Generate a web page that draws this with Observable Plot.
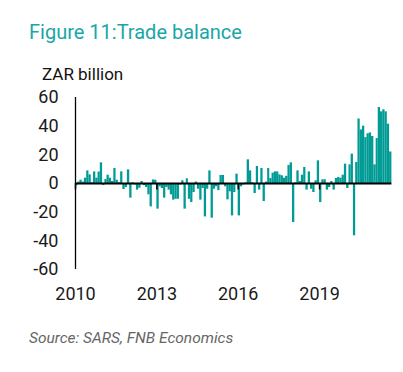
<!DOCTYPE html>
<html><head><meta charset="utf-8">
<script src="https://cdn.jsdelivr.net/npm/d3@7"></script>
<script src="https://cdn.jsdelivr.net/npm/@observablehq/plot@0.6"></script>
<style>
body{margin:0;width:403px;height:372px;background:#fff;position:relative;overflow:hidden;font-family:Roboto,sans-serif}
#title{position:absolute;left:29px;top:22px;font-size:20px;color:#1aa6a6;line-height:1;white-space:nowrap}
#unit{position:absolute;left:42px;top:66px;font-size:17px;color:#111;line-height:1;white-space:nowrap}
#chart{position:absolute;left:0;top:55px}
#source{position:absolute;left:29px;top:331px;font-style:italic;color:#666;font-size:15.5px;line-height:1;white-space:nowrap}
</style></head>
<body>
<div id="title">Figure 11:Trade balance</div>
<div id="unit">ZAR billion</div>
<div id="chart"></div>
<div id="source">Source: SARS, FNB Economics</div>
<script>
// Monthly trade balance, ZAR billion (Jan..Dec)
const v2010 = [-1.6, 1, 2.3, 1, 3.7, 8.8, 6, 0.5, 8.1, 3.7, 8, 14.4];
const v2011 = [-1.4, 2.8, 5.8, 3.7, 1.4, 10.5, 2.3, 0.5, 8.1, -4.2, -2.8, 9.5];
const v2012 = [-10.2, 0.5, -1, -4.6, -3.3, 1.4, -1.5, -2.8, -7.9, -16.3, 2.5, 2.3];
const v2013 = [-17.9, -2.3, -3.5, -10.2, -2.8, -4.6, -7.9, -11.6, -11, -11, -1, 1.9];
const v2014 = [-17.9, 3.3, -11, -13.3, -6.3, 1, -4, -11.6, -3.5, -23.3, -4, 8.8];
const v2015 = [-24.2, -4, -2.3, -5, 5.6, 5.6, -2.3, -11.4, -5.8, -22.6, -6.3, 6.5];
const v2016 = [-22.6, -2.3, -1, 0.5, 16.5, 8.8, 0.5, -7, 11.9, -4.6, 10.5, -12.6];
const v2017 = [1, 10.5, 3.5, 7.2, 8.1, 8.1, 6, 5.4, 3.7, 5, 12.6, 14.4];
const v2018 = [-27.2, 0.5, 8.8, 1.4, 5.8, 11.2, -4.6, 8.1, -4, -6.3, 1.9, 15.8];
const v2019 = [-13.3, 2.6, 2.6, -4.6, -2.8, 1.4, -4.6, 3.5, 4.2, 3.7, 5.8, 13.5];
const v2020 = [-3.5, 13, 20.5, -36.5, 14.7, 45, 37.4, 40, 32, 34.7, 35.3, 32.8];
const v2021 = [13, 31.4, 53, 50, 51.4, 50, 41.4, 22];

const startYear = 2010;
const yTicks = [-60, -40, -20, 0, 20, 40, 60];
const xTickYears = [2010, 2013, 2016, 2019];

const series = [v2010, v2011, v2012, v2013, v2014, v2015, v2016, v2017, v2018, v2019, v2020, v2021];
const data = [];
series.forEach((arr, yi) => arr.forEach((v, m) => data.push({date: new Date(Date.UTC(startYear + yi, m, 1)), value: v})));
const tickDates = xTickYears.map(y => new Date(Date.UTC(y, 0, 1)));
const x0 = new Date(Date.UTC(startYear, 0, 1));
const x1 = d3.utcMonth.offset(data[data.length - 1].date, 1);

const chart = Plot.plot({
  width: 403, height: 259,
  marginLeft: 75, marginRight: 11.6, marginTop: 42, marginBottom: 45,
  style: {fontFamily: "Roboto, sans-serif", color: "#1a1a1a", background: "transparent"},
  x: {type: "utc", domain: [x0, x1]},
  y: {domain: [-60, 60]},
  marks: [
    Plot.rectY(data, {x1: "date", x2: d => d3.utcMonth.offset(d.date, 1), y: "value", fill: "#009b94", inset: 0}),
    Plot.ruleY([0], {stroke: "#000", strokeWidth: 1.8}),
    Plot.ruleX(tickDates, {y1: 0, y2: -4.5, stroke: "#000", strokeWidth: 1.5}),
    Plot.ruleX([x0], {y1: -60, y2: 60, stroke: "#000", strokeWidth: 1.3}),
    Plot.axisY({ticks: yTicks, tickSize: 0, tickPadding: 17, fontSize: 18, label: null, tickFormat: d => String(d)}),
    Plot.axisX({ticks: tickDates, tickSize: 0, tickPadding: 18, tickFormat: d3.utcFormat("%Y"), fontSize: 18, label: null})
  ]
});
document.getElementById("chart").appendChild(chart);
</script>
</body></html>
